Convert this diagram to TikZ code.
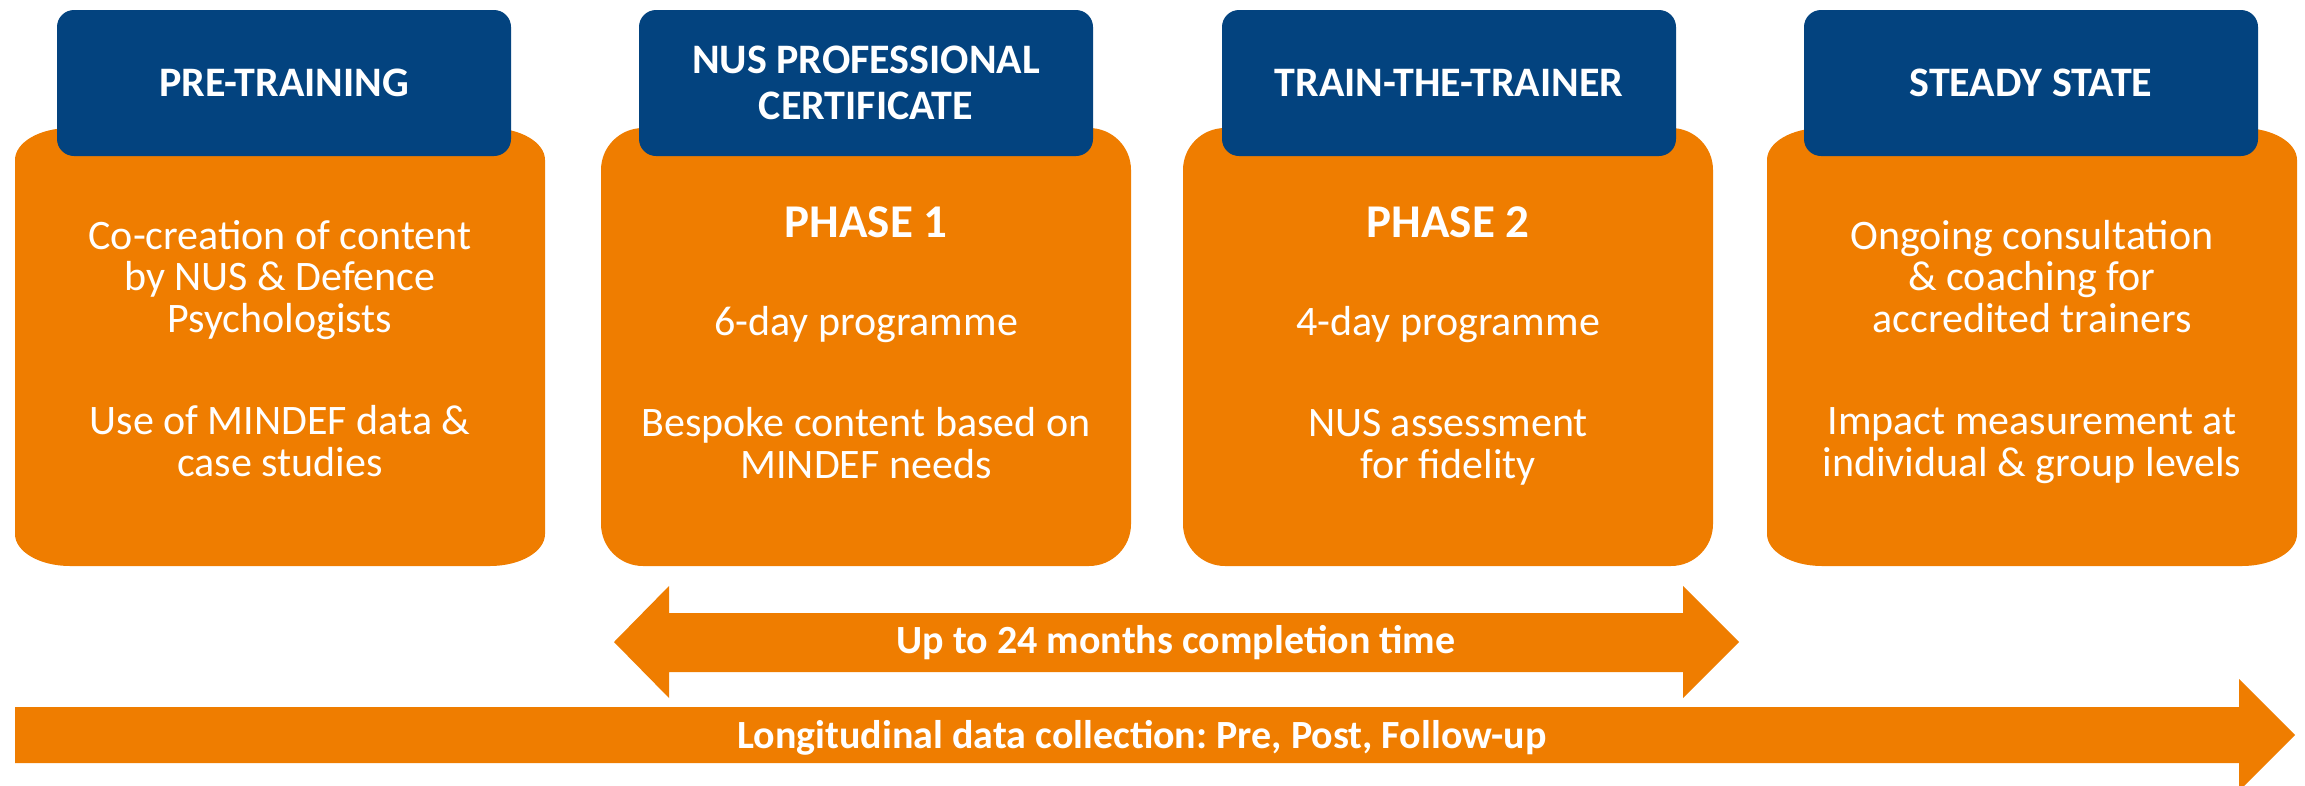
\documentclass[tikz,border=0pt]{standalone}
\usepackage{fontspec}
\setmainfont{Carlito}
\frenchspacing
\definecolor{nusorange}{HTML}{EF7D00}
\definecolor{nusblue}{HTML}{03437F}

\begin{document}
\begin{tikzpicture}[x=1pt,y=-1pt]
            \tikzset{
	header/.style={fill=nusblue, rounded corners=17pt, minimum width=454pt, minimum height=146pt, text=white, align=center, font=\fontsize{42}{46}\selectfont\bfseries},
	body/.style={text=white, align=center, anchor=base, inner sep=0pt, font=\fontsize{42}{41.5}\selectfont},
	phase/.style={text=white, anchor=base, inner sep=0pt, font=\fontsize{47}{50}\selectfont\bfseries},
	bartext/.style={text=white, anchor=base, inner sep=0pt, font=\fontsize{40}{44}\selectfont\bfseries}
}

\useasboundingbox (0,0) rectangle (2305,785);

% orange boxes
\foreach \xa/\rx/\ry in {15/55/32, 601/42/42, 1183/42/42, 1767/55/32}{
	\fill[nusorange] (\xa,{566-\ry}) -- (\xa,{128+\ry})
		arc[start angle=180, end angle=270, x radius=\rx, y radius=\ry]
		-- ({\xa+530-\rx},128)
		arc[start angle=270, end angle=360, x radius=\rx, y radius=\ry]
		-- ({\xa+530},{566-\ry})
		arc[start angle=0, end angle=90, x radius=\rx, y radius=\ry]
		-- ({\xa+\rx},566)
		arc[start angle=90, end angle=180, x radius=\rx, y radius=\ry]
		-- cycle;
}

\node[header] (pre) at (284,83) {PRE-TRAINING};
\node[header] (cert) at (866,83) {NUS PROFESSIONAL\\CERTIFICATE};
\node[header] (ttt) at (1449,83) {TRAIN-THE-TRAINER};
\node[header] (steady) at (2031,83) {STEADY STATE};

% base of a block = its last line
\node[body] (pre-a) at (280,332) {Co-creation of content\\by NUS \& Defence\\Psychologists};
\node[body] (pre-b) at (280,476) {Use of MINDEF data \&\\case studies};

\node[phase] (phase1) at (866,237) {PHASE 1};
\node[body] (cert-a) at (866,335) {6-day programme};
\node[body] (cert-b) at (866,478) {Bespoke content based on\\MINDEF needs};

\node[phase] (phase2) at (1448,237) {PHASE 2};
\node[body] (ttt-a) at (1448,335) {4-day programme};
\node[body] (ttt-b) at (1448,478) {NUS assessment\\for fidelity};

\node[body] (steady-a) at (2032,332) {Ongoing consultation\\\& coaching for\\accredited trainers};
\node[body] (steady-b) at (2032,476) {Impact measurement at\\individual \& group levels};

% time span and data collection
\fill[nusorange] (614,642) -- (669,586) -- (669,613) -- (1683,613) -- (1683,586) -- (1739,642)
	-- (1683,698) -- (1683,672) -- (669,672) -- (669,698) -- cycle;
\node[bartext] (span) at (1176,653) {Up to 24 months completion time};

\fill[nusorange] (15,707) -- (2239,707) -- (2239,679) -- (2295,735) -- (2239,791) -- (2239,763)
	-- (15,763) -- cycle;
\node[bartext] (longit) at (1142,748) {Longitudinal data collection: Pre, Post, Follow-up};
        \end{tikzpicture}
\end{document}
